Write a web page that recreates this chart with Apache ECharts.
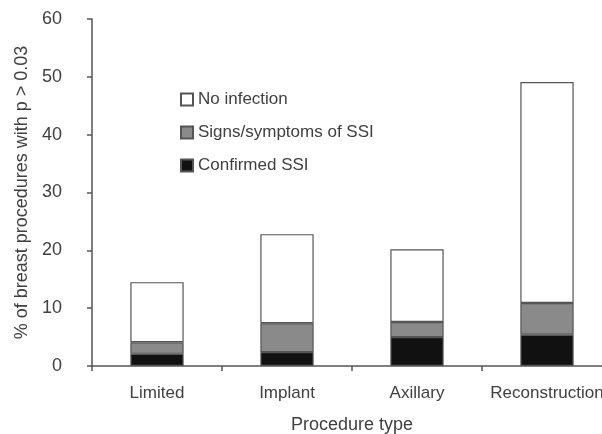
<!DOCTYPE html>
<html>
<head>
<meta charset="UTF-8" />
<script src="https://cdn.jsdelivr.net/npm/echarts@6/dist/echarts.min.js"></script>
<style>
  html, body { margin: 0; padding: 0; background: #fff; }
  #chart { width: 602px; height: 434px; }
</style>
</head>
<body>
<div id="chart"></div>
<script>
  var categories = ["Limited", "Implant", "Axillary", "Reconstruction"];
  var confirmedSSI = [2.1, 2.4, 5.0, 5.4];
  var signsSSI = [2.0, 5.0, 2.6, 5.5];
  var noInfection = [10.4, 15.4, 12.6, 38.2];
  var yTicks = [0, 10, 20, 30, 40, 50, 60];

  var txt = "#404040";
  var font = "Liberation Sans, Arial, sans-serif";

  function bar(name, data, color) {
    return {
      name: name,
      type: "bar",
      stack: "all",
      data: data,
      barWidth: "41%",
      itemStyle: { color: color, borderColor: "#555", borderWidth: 1.2 }
    };
  }

  var chart = echarts.init(document.getElementById("chart"));
  chart.setOption({
    animation: false,
    // outerBoundsMode none: keep the grid where it is, the axis runs past the right edge
    grid: { left: 92, top: 19, bottom: 68, right: -10, containLabel: false, outerBoundsMode: "none" },
    legend: {
      orient: "vertical",
      left: 180,
      top: 91,
      padding: 0,
      itemWidth: 12,
      itemHeight: 12,
      itemGap: 16,
      icon: "rect",
      data: ["No infection", "Signs/symptoms of SSI", "Confirmed SSI"],
      textStyle: { color: txt, fontSize: 17, fontFamily: font }
    },
    xAxis: {
      type: "category",
      data: categories,
      name: "Procedure type",
      nameLocation: "middle",
      nameGap: 50,
      nameTextStyle: { color: txt, fontSize: 18, fontFamily: font },
      axisLine: { lineStyle: { color: "#555", width: 1.5 } },
      axisTick: { show: true, interval: 0, length: 5, lineStyle: { color: "#555", width: 1.5 } },
      axisLabel: { interval: 0, color: txt, fontSize: 17, fontFamily: font, margin: 19 }
    },
    yAxis: {
      type: "value",
      min: yTicks[0],
      max: yTicks[yTicks.length - 1],
      interval: 10,
      name: "% of breast procedures with p > 0.03",
      nameLocation: "middle",
      nameGap: 60,
      nameTextStyle: { color: txt, fontSize: 18, fontFamily: font },
      splitLine: { show: false },
      axisLine: { show: true, lineStyle: { color: "#555", width: 1.5 } },
      axisTick: { show: true, length: 5, lineStyle: { color: "#555", width: 1.5 } },
      axisLabel: { color: txt, fontSize: 18, fontFamily: font, margin: 30 }
    },
    series: [
      bar("Confirmed SSI", confirmedSSI, "#111111"),
      bar("Signs/symptoms of SSI", signsSSI, "#8a8a8a"),
      bar("No infection", noInfection, "#ffffff")
    ]
  });
</script>
</body>
</html>
